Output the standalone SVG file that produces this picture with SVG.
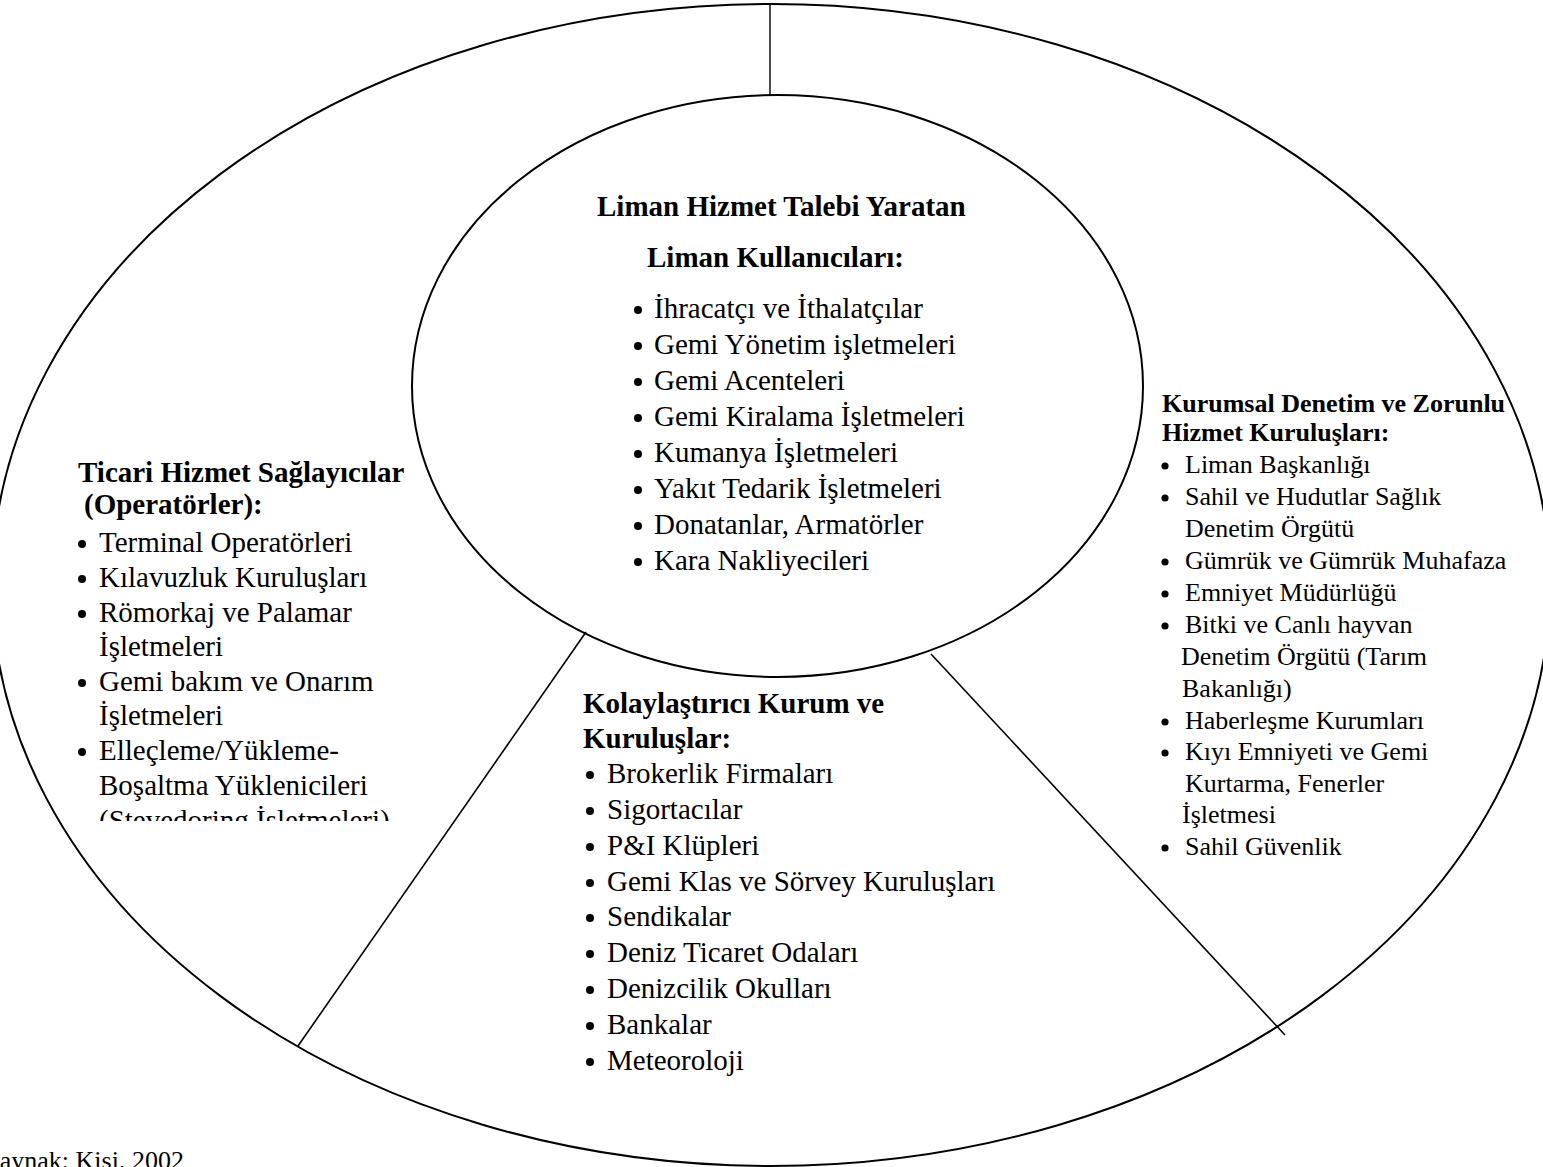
<svg xmlns="http://www.w3.org/2000/svg" width="1543" height="1167" viewBox="0 0 1543 1167">
<style>
text{font-family:"Liberation Serif","Times New Roman",serif;fill:#000}
.r29{font-size:29px}
.b29{font-size:29px;font-weight:bold}
.r26{font-size:26px}
.b26{font-size:26px;font-weight:bold}
.bul{fill:#000}
.shape{fill:none;stroke:#000}
</style>
<defs>
<clipPath id="leftClip"><rect x="0" y="440" width="440" height="381"/></clipPath>
</defs>
<rect width="1543" height="1167" fill="#fff"/>

<g id="outer-ring">
<ellipse class="shape" cx="771" cy="585" rx="779" ry="581" stroke-width="2"/>
</g>

<g id="connectors" class="shape">
<line x1="770" y1="4" x2="770" y2="95" stroke-width="1.4"/>
<line x1="586" y1="632" x2="298" y2="1046" stroke-width="1.6"/>
<line x1="931" y1="654" x2="1285" y2="1035" stroke-width="1.6"/>
</g>

<g id="center-node">
<ellipse class="shape" cx="777.5" cy="386" rx="365.5" ry="291" stroke-width="2" fill="#fff"/>
<text class="b29" x="597" y="216">Liman Hizmet Talebi Yaratan</text>
<text class="b29" x="647" y="267">Liman Kullanıcıları:</text>
<g class="bul">
<circle cx="638" cy="310" r="4"/><circle cx="638" cy="346" r="4"/><circle cx="638" cy="382" r="4"/><circle cx="638" cy="418" r="4"/>
<circle cx="638" cy="454" r="4"/><circle cx="638" cy="490" r="4"/><circle cx="638" cy="526" r="4"/><circle cx="638" cy="562" r="4"/>
</g>
<text class="r29" x="654" y="318">İhracatçı ve İthalatçılar</text>
<text class="r29" x="654" y="354">Gemi Yönetim işletmeleri</text>
<text class="r29" x="654" y="390">Gemi Acenteleri</text>
<text class="r29" x="654" y="426">Gemi Kiralama İşletmeleri</text>
<text class="r29" x="654" y="462">Kumanya İşletmeleri</text>
<text class="r29" x="654" y="498">Yakıt Tedarik İşletmeleri</text>
<text class="r29" x="654" y="534">Donatanlar, Armatörler</text>
<text class="r29" x="654" y="570">Kara Nakliyecileri</text>
</g>

<g id="left-node" clip-path="url(#leftClip)">
<text class="b29" x="78" y="482">Ticari Hizmet Sağlayıcılar</text>
<text class="b29" x="84" y="514">(Operatörler):</text>
<g class="bul">
<circle cx="82" cy="544" r="4"/><circle cx="82" cy="579" r="4"/><circle cx="82" cy="614" r="4"/>
<circle cx="82" cy="683" r="4"/><circle cx="82" cy="752" r="4"/>
</g>
<text class="r29" x="99" y="552">Terminal Operatörleri</text>
<text class="r29" x="99" y="587">Kılavuzluk Kuruluşları</text>
<text class="r29" x="99" y="622">Römorkaj ve Palamar</text>
<text class="r29" x="99" y="656">İşletmeleri</text>
<text class="r29" x="99" y="691">Gemi bakım ve Onarım</text>
<text class="r29" x="99" y="725">İşletmeleri</text>
<text class="r29" x="99" y="760">Elleçleme/Yükleme-</text>
<text class="r29" x="99" y="795">Boşaltma Yüklenicileri</text>
<text class="r29" x="99" y="830">(Stevedoring İşletmeleri)</text>
</g>

<g id="right-node">
<text class="b26" x="1162" y="412">Kurumsal Denetim ve Zorunlu</text>
<text class="b26" x="1162" y="441">Hizmet Kuruluşları:</text>
<g class="bul">
<circle cx="1165" cy="466" r="3.6"/><circle cx="1165" cy="498" r="3.6"/><circle cx="1165" cy="562" r="3.6"/>
<circle cx="1165" cy="594" r="3.6"/><circle cx="1165" cy="626" r="3.6"/><circle cx="1165" cy="722" r="3.6"/>
<circle cx="1165" cy="753" r="3.6"/><circle cx="1165" cy="848" r="3.6"/>
</g>
<text class="r26" x="1185" y="473">Liman Başkanlığı</text>
<text class="r26" x="1185" y="505">Sahil ve Hudutlar Sağlık</text>
<text class="r26" x="1185" y="537">Denetim Örgütü</text>
<text class="r26" x="1185" y="569">Gümrük ve Gümrük Muhafaza</text>
<text class="r26" x="1185" y="601">Emniyet Müdürlüğü</text>
<text class="r26" x="1185" y="633">Bitki ve Canlı hayvan</text>
<text class="r26" x="1181" y="665">Denetim Örgütü (Tarım</text>
<text class="r26" x="1182" y="697">Bakanlığı)</text>
<text class="r26" x="1185" y="729">Haberleşme Kurumları</text>
<text class="r26" x="1185" y="760">Kıyı Emniyeti ve Gemi</text>
<text class="r26" x="1185" y="792">Kurtarma, Fenerler</text>
<text class="r26" x="1182" y="823">İşletmesi</text>
<text class="r26" x="1185" y="855">Sahil Güvenlik</text>
</g>

<g id="bottom-node">
<text class="b29" x="583" y="713">Kolaylaştırıcı Kurum ve</text>
<text class="b29" x="583" y="748">Kuruluşlar:</text>
<g class="bul">
<circle cx="590" cy="775" r="4"/><circle cx="590" cy="811" r="4"/><circle cx="590" cy="847" r="4"/>
<circle cx="590" cy="883" r="4"/><circle cx="590" cy="918" r="4"/><circle cx="590" cy="954" r="4"/>
<circle cx="590" cy="990" r="4"/><circle cx="590" cy="1026" r="4"/><circle cx="590" cy="1062" r="4"/>
</g>
<text class="r29" x="607" y="783">Brokerlik Firmaları</text>
<text class="r29" x="607" y="819">Sigortacılar</text>
<text class="r29" x="607" y="855">P&amp;I Klüpleri</text>
<text class="r29" x="607" y="891">Gemi Klas ve Sörvey Kuruluşları</text>
<text class="r29" x="607" y="926">Sendikalar</text>
<text class="r29" x="607" y="962">Deniz Ticaret Odaları</text>
<text class="r29" x="607" y="998">Denizcilik Okulları</text>
<text class="r29" x="607" y="1034">Bankalar</text>
<text class="r29" x="607" y="1070">Meteoroloji</text>
</g>

<g id="caption">
<text class="r26" x="-19" y="1169">Kaynak: Kişi, 2002</text>
</g>
</svg>
